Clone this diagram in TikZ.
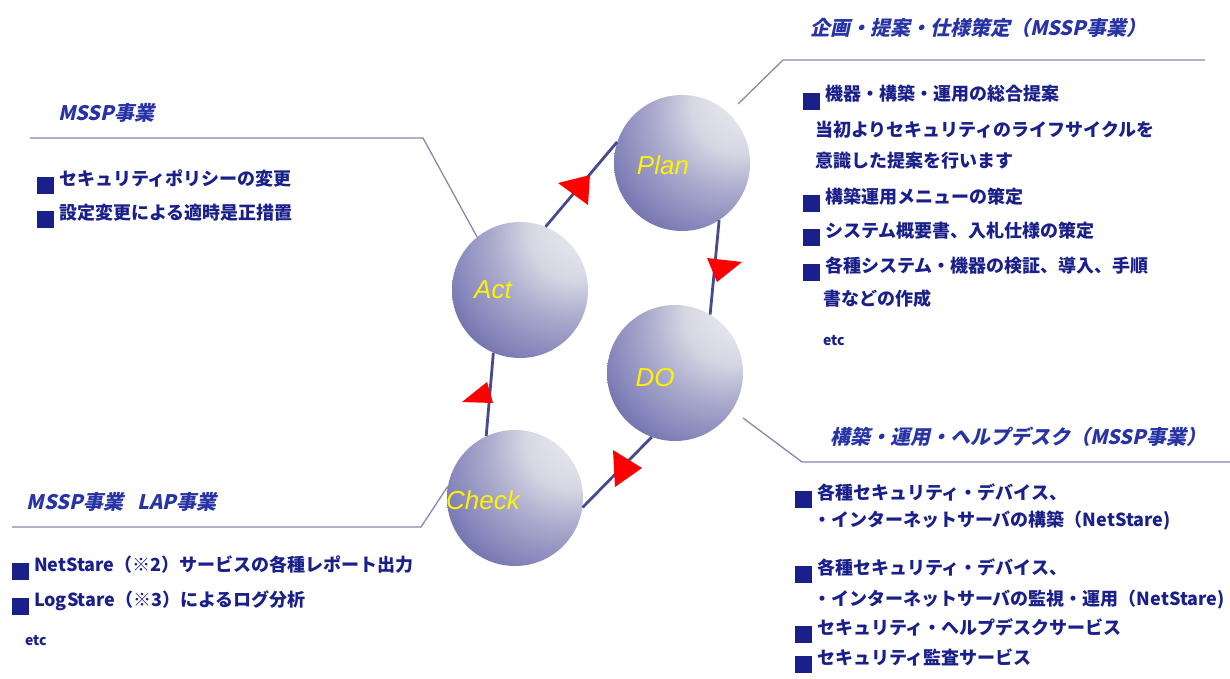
\documentclass[tikz,border=0pt]{standalone}
\usepackage{fontspec}
\newfontfamily\jp{Noto Sans CJK JP}
\newfontfamily\jpit{Noto Sans CJK JP}[FakeSlant=0.22]
\newfontfamily\lab{Liberation Sans}
\definecolor{txt}{RGB}{26,32,138}
\definecolor{head}{RGB}{40,52,165}
\definecolor{lead}{RGB}{135,135,178}
\definecolor{conn}{RGB}{72,74,142}
\definecolor{sphA}{RGB}{242,242,246}
\definecolor{sphB}{RGB}{215,215,228}
\definecolor{sphC}{RGB}{172,172,206}
\definecolor{sphD}{RGB}{130,130,185}
\definecolor{sphE}{RGB}{82,82,150}
\definecolor{sphF}{RGB}{45,45,115}
\pgfdeclareradialshading{sph}{\pgfpoint{28bp}{28bp}}{color(0bp)=(sphA); color(18bp)=(sphB); color(28bp)=(sphC); color(40bp)=(sphD); color(52bp)=(sphE); color(60bp)=(sphF); color(80bp)=(sphF)}
\newcommand\bsq{{\rule[-9pt]{17pt}{17pt}}\hspace{5pt}}
\tikzset{
  sphere/.style={circle, minimum size=136pt, inner sep=0pt, shading=sph},
  lbl/.style={text=yellow, font=\lab\itshape\fontsize{26}{28}\selectfont, inner sep=0pt},
  txtn/.style={anchor=base west, inner sep=0pt, outer sep=0pt, text=txt, font=\jp\bfseries\fontsize{18}{20}\selectfont},
  etcn/.style={anchor=base west, inner sep=0pt, outer sep=0pt, text=txt, font=\jp\bfseries\fontsize{14}{16}\selectfont},
  headn/.style={anchor=base west, inner sep=0pt, outer sep=0pt, text=head, font=\jpit\bfseries\fontsize{20}{22}\selectfont},
  leader/.style={draw=lead, line width=1.3pt},
  conline/.style={draw=conn, line width=2.8pt},
  tri/.style={fill=red}
}
\begin{document}
\begin{tikzpicture}[x=1pt,y=-1pt]
\useasboundingbox (0,0) rectangle (1230,678);
% spheres
\node[sphere] (plan) at (682,163) {};
\node[sphere] (act) at (520,290) {};
\node[sphere] (do) at (675,373) {};
\node[sphere] (check) at (515,498) {};
\node[lbl] (planl) at (663,165) {Plan};
\node[lbl] (actl) at (493,290) {Act};
\node[lbl] (dol) at (655,378) {DO};
\node[lbl] (checkl) at (483,500) {Check};
% connectors
\draw[conline] (plan.-57) -- (do.59);
\draw[conline] (do.-110) -- (check.-8);
\draw[conline] (check.115) -- (act.-113);
\draw[conline] (act.68) -- (plan.162);
% arrow triangles
\fill[tri] (558,183) -- (590,175) -- (588,205) -- cycle;
\fill[tri] (707,258) -- (742,262) -- (717,282) -- cycle;
\fill[tri] (613,450) -- (642,468) -- (615,487) -- cycle;
\fill[tri] (462,402) -- (493,403) -- (487,382) -- cycle;
% leader lines
\coordinate (trA) at (738,104);
\coordinate (trB) at (783,60);
\coordinate (trC) at (1205,60);
\draw[leader] (trA) -- (trB) -- (trC);
\coordinate (tlB) at (423,138);
\coordinate (tlC) at (30,138);
\draw[leader] (act.129) -- (tlB) -- (tlC);
\coordinate (blB) at (421,527);
\coordinate (blC) at (12,527);
\draw[leader] (check.170) -- (blB) -- (blC);
\coordinate (brA) at (743,418);
\coordinate (brB) at (802,462);
\coordinate (brC) at (1230,462);
\draw[leader] (brA) -- (brB) -- (brC);
% top right block
\node[headn] (h1) at (810,35) {企画・提案・仕様策定（MSSP事業）};
\node[txtn] (r1) at (803,100.5) {\bsq 機器・構築・運用の総合提案};
\node[txtn] (r2) at (815,136) {当初よりセキュリティのライフサイクルを};
\node[txtn] (r3) at (815,167) {意識した提案を行います};
\node[txtn] (r4) at (803,203) {\bsq 構築運用メニューの策定};
\node[txtn] (r5) at (803,237) {\bsq システム概要書、入札仕様の策定};
\node[txtn] (r6) at (803,272) {\bsq 各種システム・機器の検証、導入、手順};
\node[txtn] (r7) at (823,305) {書などの作成};
\node[etcn] (r8) at (823,345) {etc};
% top left block
\node[headn] (h2) at (58,120) {MSSP事業};
\node[txtn] (l1) at (37,185) {\bsq セキュリティポリシーの変更};
\node[txtn] (l2) at (37,219) {\bsq 設定変更による適時是正措置};
% bottom left block
\node[headn] (h3) at (27,509) {MSSP事業\hspace{14pt}LAP事業};
\node[txtn] (b1) at (12,571) {\bsq NetStare（※2）サービスの各種レポート出力};
\node[txtn] (b2) at (12,606) {\bsq LogStare（※3）によるログ分析};
\node[etcn] (b3) at (25,645) {etc};
% bottom right block
\node[headn] (h4) at (830,444) {構築・運用・ヘルプデスク（MSSP事業）};
\node[txtn] (d1) at (795,499) {\bsq 各種セキュリティ・デバイス、};
\node[txtn] (d2) at (813,526) {・インターネットサーバの構築（NetStare)};
\node[txtn] (d3) at (795,574) {\bsq 各種セキュリティ・デバイス、};
\node[txtn] (d4) at (813,605) {・インターネットサーバの監視・運用（NetStare)};
\node[txtn] (d5) at (795,634) {\bsq セキュリティ・ヘルプデスクサービス};
\node[txtn] (d6) at (795,664) {\bsq セキュリティ監査サービス};
\end{tikzpicture}
\end{document}
